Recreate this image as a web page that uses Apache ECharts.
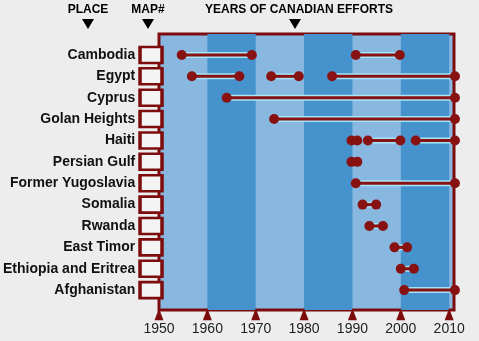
<!DOCTYPE html>
<html><head><meta charset="utf-8">
<script src="https://cdn.jsdelivr.net/npm/echarts@6/dist/echarts.min.js"></script>
<style>html,body{margin:0;padding:0;background:#ededed}#c{width:479px;height:341px}</style>
</head><body><div id="c"></div>
<script>
const places = ['Cambodia','Egypt','Cyprus','Golan Heights','Haiti','Persian Gulf','Former Yugoslavia','Somalia','Rwanda','East Timor','Ethiopia and Eritrea','Afghanistan'];
const spanPlace = [0,0,1,1,1,2,3,4,4,4,5,6,7,8,9,10,11];
const spanStart = [1954.7,1990.7,1956.8,1973.2,1985.8,1964.0,1973.8,1989.8,1993.2,2003.1,1989.8,1990.7,1992.1,1993.5,1998.7,2000.0,2000.7];
const spanEnd   = [1969.2,1999.8,1966.6,1978.9,2011.2,2011.2,2011.2,1991.0,1999.9,2011.2,1991.0,2011.2,1994.9,1996.3,2001.3,2002.7,2011.2];
const tickYears = [1950,1960,1970,1980,1990,2000,2010];
const darkBands = [[1960,1970],[1980,1990],[2000,2010]];

const RED = '#7d0d0d', DOT = '#881111';
const FONT = '"Liberation Sans", Arial, sans-serif';
const chart = echarts.init(document.getElementById('c'), null, {renderer:'canvas'});

const series = [];
series.push({
  type:'line', data:[], silent:true,
  markArea:{silent:true, itemStyle:{color:'#4592cd'},
    data: darkBands.map(b=>[{xAxis:b[0]},{xAxis:b[1]}])}
});
spanPlace.forEach((r,k)=>{
  series.push({type:'line', silent:true, clip:false, symbol:'none', z:2,
    data:[[spanStart[k],r],[spanEnd[k],r]],
    lineStyle:{color:'#a6e6f7', width:6}});
});
spanPlace.forEach((r,k)=>{
  series.push({type:'line', silent:true, clip:false, z:3,
    symbol:'circle', symbolSize:10, showSymbol:true,
    data:[[spanStart[k],r],[spanEnd[k],r]],
    lineStyle:{color:DOT, width:3}, itemStyle:{color:DOT}});
});
series.push({type:'scatter', clip:false, silent:true, z:4,
  symbol:'rect', symbolSize:[22,16],
  data: places.map((p,i)=>({name:p, value:[1948.35,i]})),
  itemStyle:{color:'#f4f4f4', borderColor:RED, borderWidth:3, opacity:1},
  label:{show:true, position:'left', distance:3, formatter:'{b}',
    fontFamily:FONT, fontWeight:'bold', fontSize:14, color:'#111'}
});
series.push({type:'scatter', clip:false, silent:true, z:4,
  symbol:'triangle', symbolSize:[9,12],
  data: tickYears.map(y=>[y,12.13]),
  itemStyle:{color:RED, opacity:1}
});

const tri = (cx,top)=>({type:'polygon', shape:{points:[[cx-6,top],[cx+6,top],[cx,top+10]]}, style:{fill:'#000'}});
const txt = (cx,y,t)=>({type:'text', x:cx, y:y, style:{text:t, fill:'#000', font:'bold 12px '+FONT, align:'center', verticalAlign:'middle'}});

chart.setOption({
  backgroundColor:'#ededed',
  animation:false,
  grid:{left:159, right:25, top:34, bottom:31, show:true, backgroundColor:'#88b8e0', borderColor:RED, borderWidth:3},
  xAxis:{type:'value', min:1950, max:2011,
    axisLine:{show:false}, axisTick:{show:false}, splitLine:{show:false},
    axisLabel:{customValues:tickYears, formatter:v=>String(v), fontFamily:FONT, fontSize:14, color:'#222', margin:12}},
  yAxis:{type:'value', min:-0.98, max:11.93, inverse:true, show:false},
  graphic:[
    txt(88,10,'PLACE'), tri(88,19),
    txt(148,10,'MAP#'), tri(148,19),
    txt(299,10,'YEARS OF CANADIAN EFFORTS'), tri(295,19)
  ],
  series: series
});
</script></body></html>
